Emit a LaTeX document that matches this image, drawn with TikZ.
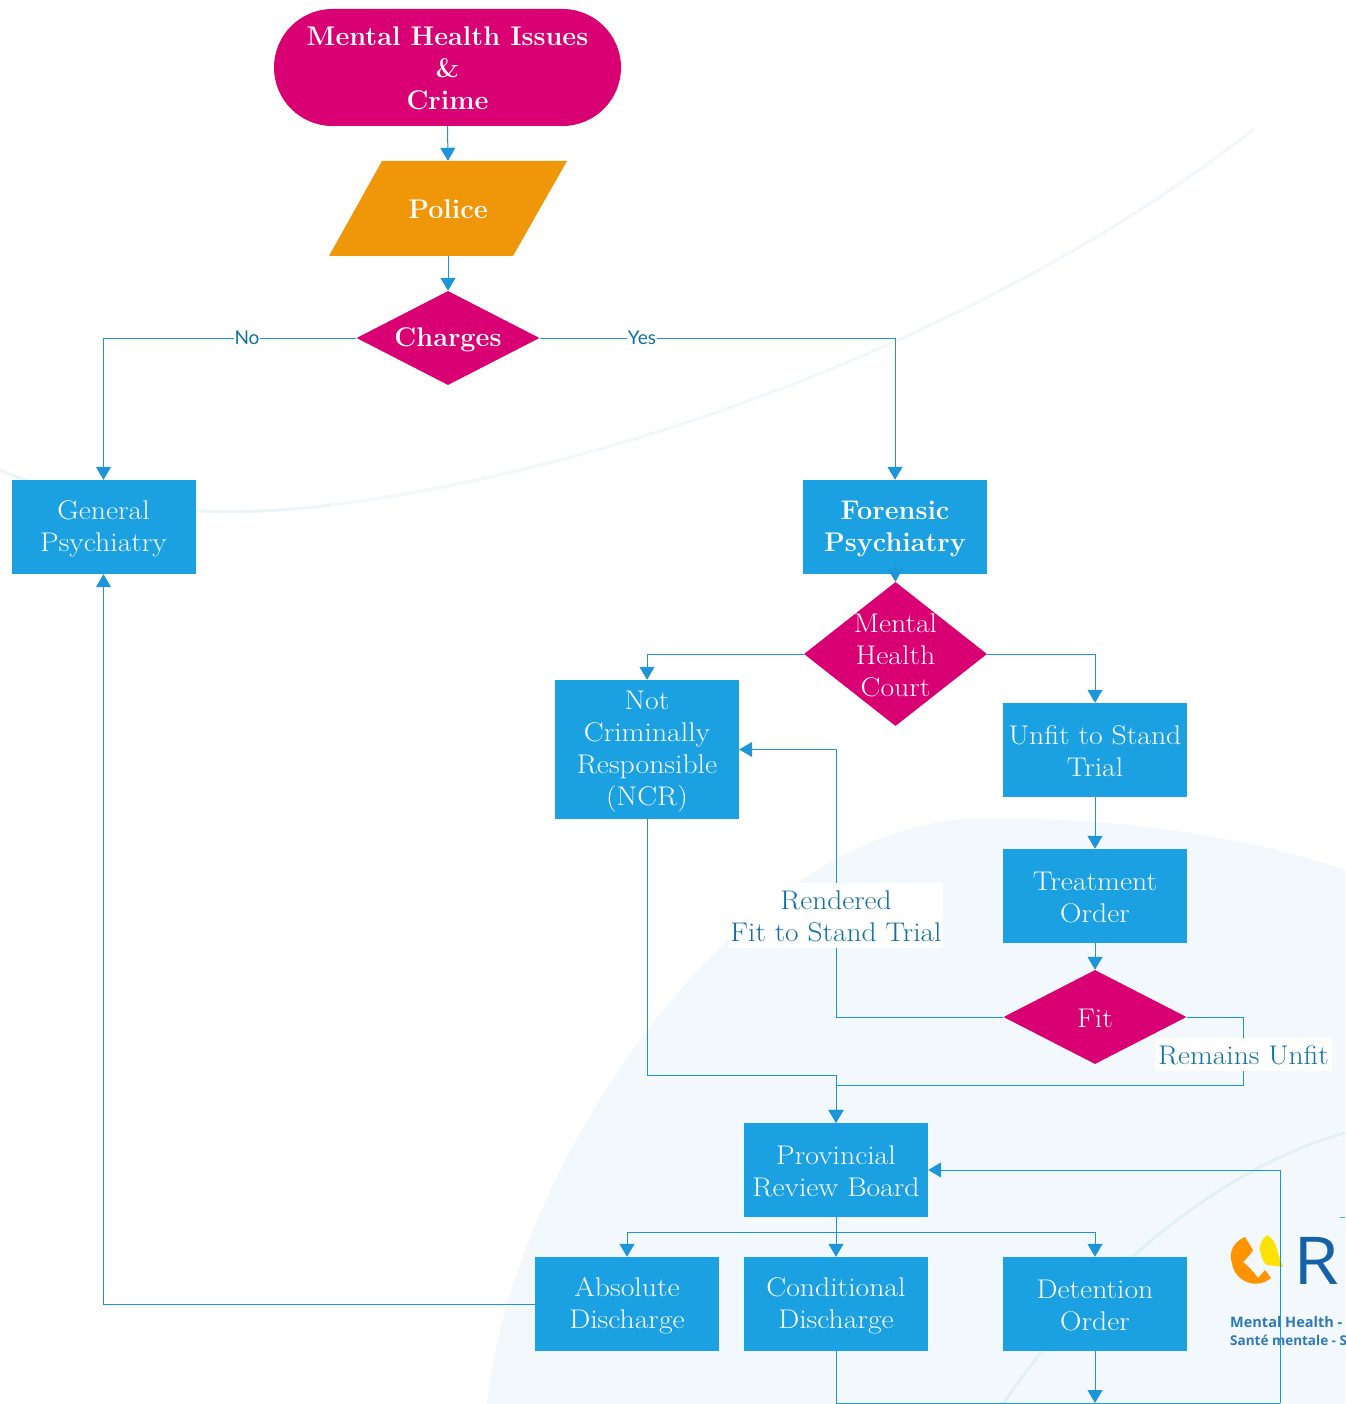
\documentclass[tikz,border=0pt]{standalone}
\usepackage{fontspec}
\usetikzlibrary{arrows.meta,shapes.geometric,shapes.misc,calc}
\newfontfamily\lblsans{Lato}
\newfontfamily\logosans{Open Sans}
\newfontfamily\logowide{Open Sans}[FakeStretch=1.12]
\newfontfamily\regf{Latin Modern Roman}[FakeStretch=1.1]
\newfontfamily\lblf{Latin Modern Roman}[FakeStretch=1.09]
\definecolor{flowblue}{HTML}{1BA1E2}
\definecolor{linkblue}{HTML}{1C96D8}
\definecolor{flowpink}{HTML}{D80073}
\definecolor{floworange}{HTML}{F09609}
\definecolor{labelblue}{HTML}{0F72A4}
\definecolor{palebg}{HTML}{F3F8FC}
\definecolor{palearc}{HTML}{E2F0F5}
\definecolor{palearcb}{HTML}{F1F7FA}
\definecolor{logoblue}{HTML}{2F7AB5}
\definecolor{logodark}{HTML}{1562A8}
\newcommand{\ls}{\rule[-2.2pt]{0pt}{25.2pt}}
\tikzset{
  x=1pt,y=-1pt,
  txt/.style={font=\regf\fontsize{27}{32}\selectfont,text=white,align=center,inner sep=0pt},
  bftxt/.style={txt,font=\normalfont\fontsize{27}{32}\selectfont\bfseries},
  boxnode/.style={rectangle,fill=flowblue,minimum width=184pt,minimum height=94pt,inner sep=0pt,txt},
  dia/.style={diamond,fill=flowpink,inner sep=0pt,minimum width=183pt,minimum height=94pt},
  conn/.style={draw=linkblue,line width=1pt,-{Triangle[length=13pt,width=15pt]}},
  plainconn/.style={draw=linkblue,line width=1pt},
  lbl/.style={fill=white,text=labelblue,font=\lblf\fontsize{27}{32}\selectfont,align=center,inner sep=1pt},
  smalllbl/.style={fill=white,text=labelblue,font=\lblsans\fontsize{19}{22}\selectfont,inner sep=1pt},
}
\begin{document}
\begin{tikzpicture}
\useasboundingbox (0,0) rectangle (1345,1404);
\begin{scope}
\clip (0,0) rectangle (1345,1404);
% background
\fill[white] (0,0) rectangle (1345,1404);
\draw[palearcb,line width=3pt] (330,505) .. controls (620,470) and (1000,330) .. (1255,128);
\draw[palearc!70!white,line width=3pt] (0,470) .. controls (90,510) and (220,520) .. (330,505);
\fill[palebg] (487,1404) .. controls (510,1170) and (740,818) .. (985,818)
   .. controls (1120,818) and (1240,835) .. (1345,870) -- (1345,1404) -- cycle;
\draw[palearc,line width=3pt] (1003,1404) .. controls (1080,1290) and (1210,1170) .. (1345,1133);
% logo
\fill[orange!85!yellow] (1245,1237) .. controls (1231,1243) and (1229,1255) .. (1232,1263)
   .. controls (1234,1280) and (1255,1291) .. (1271,1278)
   -- (1265,1270) -- (1258,1278) .. controls (1254,1272) and (1248,1266) .. (1243,1262)
   .. controls (1247,1258) and (1251,1254) .. (1253,1250) -- cycle;
\fill[yellow!85!orange] (1267,1235) .. controls (1260,1240) and (1258,1250) .. (1261,1254)
   .. controls (1262,1260) and (1264,1263) .. (1267,1265) -- (1283,1267)
   .. controls (1280,1258) and (1278,1254) .. (1277,1250) .. controls (1276,1243) and (1272,1238) .. (1267,1235) -- cycle;
\node[anchor=base west,inner sep=0pt,text=logodark,font=\logowide\fontsize{66}{66}\selectfont] (logoR) at (1293,1284) {R};
\node[anchor=base west,inner sep=0pt,text=logoblue,font=\logosans\fontsize{14.5}{18}\selectfont\bfseries] (logoA) at (1230,1327) {Mental Health -};
\node[anchor=base west,inner sep=0pt,text=logoblue,font=\logosans\fontsize{13.5}{18}\selectfont\bfseries] (logoB) at (1230,1345) {Santé mentale - S};
\draw[linkblue!80!white,line width=1pt] (1340,1217) -- (1345,1217);
\end{scope}
% nodes
\node[rounded rectangle,fill=flowpink,minimum width=347pt,minimum height=117pt,inner sep=0pt,bftxt] (start) at (447.5,67.5) {\ls Mental Health Issues\\\ls\&\\\ls Crime};
\fill[floworange] (382,161) -- (567,161) -- (513,256) -- (329,256) -- cycle;
\node[rectangle,minimum width=184pt,minimum height=95pt,bftxt] (police) at (448,208.5) {\ls Police};
\node[dia] (charges) at (448,338) {};
\node[bftxt] (chargesT) at (448,338) {\ls Charges};
\node[boxnode] (gen) at (103.5,527) {\ls General\\\ls Psychiatry};
\node[boxnode,font=\normalfont\fontsize{27}{32}\selectfont\bfseries] (for) at (895,527) {\ls Forensic\\\ls Psychiatry};
\node[dia,minimum height=144pt] (mhc) at (895.5,654) {};
\node[txt] (mhcT) at (895.5,654) {\ls Mental\\\ls Health\\\ls Court};
\node[boxnode,minimum height=139pt] (ncr) at (647,749.5) {\ls Not\\\ls Criminally\\\ls Responsible\\\ls (NCR)};
\node[boxnode] (unfit) at (1095,750) {\ls Unfit to Stand\\\ls Trial};
\node[boxnode] (treat) at (1095,896) {\ls Treatment\\\ls Order};
\node[dia] (fit) at (1095,1017) {};
\node[txt] (fitT) at (1095,1017) {\ls Fit};
\node[boxnode] (prb) at (836,1170) {\ls Provincial\\\ls Review Board};
\node[boxnode] (abs) at (627,1304) {\ls Absolute\\\ls Discharge};
\node[boxnode] (cond) at (836,1304) {\ls Conditional\\\ls Discharge};
\node[boxnode] (det) at (1095,1304) {\ls Detention\\\ls Order};
% routing points
\coordinate (rendered) at (836,900);
\coordinate (unfitR) at (1243,1054);
\coordinate (unfitL) at (836,1085);
\coordinate (ncrL) at (836,1075);
\coordinate (bus) at (836,1232);
\coordinate (offpage) at (1095,1403);
\coordinate (condB) at (836,1403);
\coordinate (loop) at (1280,1403);
% connectors
\draw[conn] (start.south) -- (police.north);
\draw[conn] (police.south) -- (charges.north);
\draw[conn] (charges.west) -| (gen.north);
\draw[conn] (charges.east) -| (for.north);
\draw[conn] (for.south) ++(0,-12) -- (mhc.north);
\draw[conn] (mhc.west) -| (ncr.north);
\draw[conn] (mhc.east) -| (unfit.north);
\draw[conn] (unfit.south) -- (treat.north);
\draw[conn] (treat.south) -- (fit.north);
\draw[conn] (fit.west) -| (rendered) |- (ncr.east);
\draw[conn] (fit.east) -| (unfitR) |- (unfitL) -- (prb.north);
\draw[conn] (ncr.south) |- (ncrL) -- (prb.north);
\draw[conn] (prb.south) -- (cond.north);
\draw[conn] (bus) -| (abs.north);
\draw[conn] (bus) -| (det.north);
\draw[conn] (abs.west) -| (gen.south);
\draw[conn] (det.south) -- (offpage);
\draw[plainconn] (cond.south) -- (condB) -- (loop);
\draw[conn] (loop) |- (prb.east);
% labels
\node[smalllbl] (lno) at (247,338) {No};
\node[smalllbl] (lyes) at (642,338) {Yes};
\node[lbl,minimum width=208pt,minimum height=65pt] (lfit) at (836,915) {\ls Rendered\\\ls Fit to Stand Trial};
\node[lbl,minimum width=177pt,minimum height=33pt] (lunfit) at (1243.5,1054) {\ls Remains Unfit};
\end{tikzpicture}
\end{document}
